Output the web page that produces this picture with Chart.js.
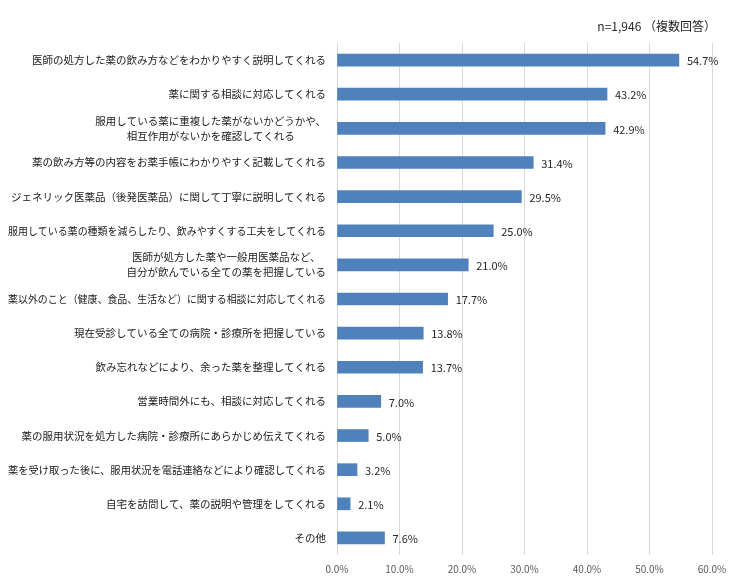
<!DOCTYPE html>
<html>
<head>
<meta charset="utf-8">
<script src="https://cdn.jsdelivr.net/npm/chart.js@4"></script>
<style>
  html, body { margin: 0; padding: 0; background: #fff; }
  #wrap { width: 740px; height: 583px; position: relative; }
</style>
</head>
<body>
<div id="wrap"><canvas id="chart" width="740" height="583"></canvas></div>
<script>
// categories (multi-line ones as arrays)
const categories = [
    '医師の処方した薬の飲み方などをわかりやすく説明してくれる',
    '薬に関する相談に対応してくれる',
    ['服用している薬に重複した薬がないかどうかや、', '相互作用がないかを確認してくれる'],
    '薬の飲み方等の内容をお薬手帳にわかりやすく記載してくれる',
    'ジェネリック医薬品（後発医薬品）に関して丁寧に説明してくれる',
    '服用している薬の種類を減らしたり、飲みやすくする工夫をしてくれる',
    ['医師が処方した薬や一般用医薬品など、', '自分が飲んでいる全ての薬を把握している'],
    '薬以外のこと（健康、食品、生活など）に関する相談に対応してくれる',
    '現在受診している全ての病院・診療所を把握している',
    '飲み忘れなどにより、余った薬を整理してくれる',
    '営業時間外にも、相談に対応してくれる',
    '薬の服用状況を処方した病院・診療所にあらかじめ伝えてくれる',
    '薬を受け取った後に、服用状況を電話連絡などにより確認してくれる',
    '自宅を訪問して、薬の説明や管理をしてくれる',
    'その他'
];
const values = [54.7, 43.2, 42.9, 31.4, 29.5, 25.0, 21.0, 17.7, 13.8, 13.7, 7.0, 5.0, 3.2, 2.1, 7.6];
const xTicks = [0, 10, 20, 30, 40, 50, 60];
const noteText = 'n=1,946 （複数回答）';

const FONT = '"Noto Sans CJK JP", "Noto Sans", sans-serif';

// category labels: block right aligned, lines centred inside the block
const catLabels = {
    id: 'catLabels',
    afterDraw(chart) {
        const ctx = chart.ctx;
        const yScale = chart.scales.y;
        const right = 326;
        const maxW = right - 8;
        const lineH = 15;
        ctx.save();
        ctx.font = '10.5px ' + FONT;
        ctx.fillStyle = '#1a1a1a';
        ctx.textBaseline = 'middle';
        ctx.textAlign = 'center';
        categories.forEach((cat, i) => {
            const lines = Array.isArray(cat) ? cat : [cat];
            const w = Math.min(maxW, Math.max(...lines.map(l => ctx.measureText(l).width)));
            const cx = right - w / 2;
            const yc = yScale.getPixelForValue(i);
            lines.forEach((l, j) => {
                ctx.fillText(l, cx, yc + (j - (lines.length - 1) / 2) * lineH, maxW);
            });
        });
        ctx.restore();
    }
};

// value labels at bar ends + note at top right
const valueLabels = {
    id: 'valueLabels',
    afterDatasetsDraw(chart) {
        const ctx = chart.ctx;
        const meta = chart.getDatasetMeta(0);
        ctx.save();
        ctx.font = '11px ' + FONT;
        ctx.fillStyle = '#262626';
        ctx.textBaseline = 'middle';
        ctx.textAlign = 'left';
        meta.data.forEach((bar, i) => {
            ctx.fillText(values[i].toFixed(1) + '%', bar.x + 8, bar.y + 1);
        });
        ctx.font = '12px ' + FONT;
        ctx.textAlign = 'right';
        ctx.fillText(noteText, 716, 26);
        ctx.restore();
    }
};

new Chart(document.getElementById('chart'), {
    type: 'bar',
    data: {
        labels: categories,
        datasets: [{
            data: values,
            backgroundColor: '#4f81bd',
            borderWidth: 0,
            barThickness: 12
        }]
    },
    options: {
        indexAxis: 'y',
        responsive: false,
        animation: false,
        layout: { padding: { top: 43, right: 28, left: 0, bottom: 0 } },
        plugins: {
            legend: { display: false },
            tooltip: { enabled: false }
        },
        scales: {
            x: {
                min: 0,
                max: 60,
                afterBuildTicks: scale => { scale.ticks = xTicks.map(v => ({ value: v })); },
                grid: { color: '#d9d9d9', drawTicks: false, lineWidth: 1 },
                border: { display: false },
                ticks: {
                    padding: 8,
                    color: '#595959',
                    font: { family: FONT, size: 10 },
                    callback: v => v.toFixed(1) + '%'
                }
            },
            y: {
                grid: { display: false },
                border: { display: false },
                ticks: { display: false },
                afterFit: scale => { scale.width = 337; }
            }
        }
    },
    plugins: [catLabels, valueLabels]
});
</script>
</body>
</html>
